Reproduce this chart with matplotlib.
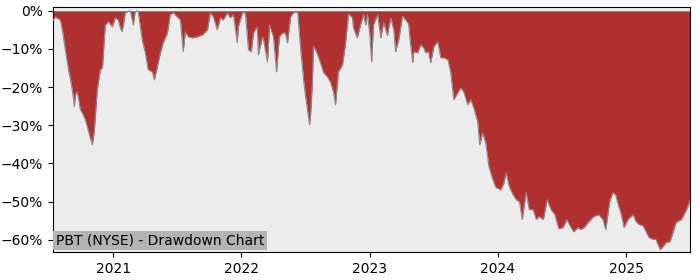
#!/usr/bin/env python3
"""Drawdown chart for PBT (NYSE), mid-2020 to mid-2025."""

import matplotlib
matplotlib.use("Agg")
import matplotlib.pyplot as plt
import matplotlib.dates as mdates
import pandas as pd
from matplotlib.ticker import PercentFormatter

# ---------------------------------------------------------------------------
# Data
# ---------------------------------------------------------------------------

TITLE = "PBT (NYSE) - Drawdown Chart"

dates = [
    "2020-07-13", "2020-07-19", "2020-07-28", "2020-08-03", "2020-08-11",
    "2020-08-17", "2020-08-26", "2020-09-01", "2020-09-06", "2020-09-12",
    "2020-09-15", "2020-09-20", "2020-09-29", "2020-10-07", "2020-10-13",
    "2020-10-21", "2020-10-27", "2020-11-02", "2020-11-08", "2020-11-16",
    "2020-11-25", "2020-12-01", "2020-12-06", "2020-12-09", "2020-12-18",
    "2020-12-23", "2020-12-29", "2021-01-06", "2021-01-15", "2021-01-21",
    "2021-01-26", "2021-02-04", "2021-02-09", "2021-02-18", "2021-02-27",
    "2021-03-04", "2021-03-10", "2021-03-13", "2021-03-24", "2021-04-02",
    "2021-04-10", "2021-04-22", "2021-04-28", "2021-05-06", "2021-05-15",
    "2021-05-23", "2021-06-04", "2021-06-12", "2021-06-21", "2021-07-02",
    "2021-07-11", "2021-07-19", "2021-07-25", "2021-08-03", "2021-08-14",
    "2021-08-28", "2021-09-12", "2021-09-26", "2021-10-04", "2021-10-13",
    "2021-10-24", "2021-11-02", "2021-11-10", "2021-11-22", "2021-11-30",
    "2021-12-09", "2021-12-20", "2021-12-23", "2022-01-04", "2022-01-12",
    "2022-01-21", "2022-01-29", "2022-02-04", "2022-02-15", "2022-02-18",
    "2022-03-02", "2022-03-05", "2022-03-16", "2022-03-22", "2022-04-02",
    "2022-04-11", "2022-04-19", "2022-04-28", "2022-05-06", "2022-05-12",
    "2022-05-21", "2022-05-29", "2022-06-10", "2022-06-18", "2022-06-27",
    "2022-07-02", "2022-07-08", "2022-07-14", "2022-07-17", "2022-07-22",
    "2022-07-25", "2022-07-31", "2022-08-06", "2022-08-14", "2022-08-23",
    "2022-09-03", "2022-09-12", "2022-09-20", "2022-09-26", "2022-10-04",
    "2022-10-16", "2022-10-24", "2022-11-02", "2022-11-13", "2022-11-16",
    "2022-11-27", "2022-12-06", "2022-12-15", "2022-12-21", "2022-12-26",
    "2023-01-01", "2023-01-07", "2023-01-12", "2023-01-24", "2023-02-02",
    "2023-02-10", "2023-02-21", "2023-03-02", "2023-03-11", "2023-03-16",
    "2023-03-25", "2023-04-05", "2023-04-14", "2023-04-22", "2023-04-28",
    "2023-05-04", "2023-05-07", "2023-05-18", "2023-05-27", "2023-06-04",
    "2023-06-10", "2023-06-18", "2023-06-24", "2023-07-03", "2023-07-14",
    "2023-07-23", "2023-07-31", "2023-08-12", "2023-08-20", "2023-08-29",
    "2023-09-09", "2023-09-18", "2023-09-26", "2023-10-08", "2023-10-16",
    "2023-10-25", "2023-11-05", "2023-11-11", "2023-11-19", "2023-11-28",
    "2023-12-07", "2023-12-18", "2023-12-27", "2024-01-10", "2024-01-19",
    "2024-01-25", "2024-02-03", "2024-02-14", "2024-02-23", "2024-03-03",
    "2024-03-11", "2024-03-22", "2024-03-31", "2024-04-11", "2024-04-20",
    "2024-04-28", "2024-05-10", "2024-05-21", "2024-06-01", "2024-06-12",
    "2024-06-23", "2024-07-05", "2024-07-16", "2024-07-28", "2024-08-05",
    "2024-08-17", "2024-08-25", "2024-09-03", "2024-09-17", "2024-10-01",
    "2024-10-15", "2024-10-27", "2024-11-04", "2024-11-15", "2024-11-24",
    "2024-12-02", "2024-12-11", "2024-12-17", "2024-12-26", "2025-01-06",
    "2025-01-21", "2025-01-29", "2025-02-07", "2025-02-18", "2025-02-27",
    "2025-03-07", "2025-03-19", "2025-03-27", "2025-04-02", "2025-04-08",
    "2025-04-16", "2025-04-25", "2025-05-06", "2025-05-15", "2025-05-23",
    "2025-06-07", "2025-06-15", "2025-06-26", "2025-07-02",
]

drawdown_pct = [
    -2.6, -1.6, -2.1, -2.4, -6.3,
    -10.2, -15.4, -18.1, -20.7, -25.1,
    -22.0, -21.2, -25.9, -27.2, -28.5,
    -31.2, -33.2, -35.1, -31.2, -20.7,
    -15.4, -14.9, -7.6, -3.7, -2.9,
    -3.4, -4.2, -1.8, -2.4, -4.5,
    -5.5, -0.5, -0.3, 0.0, -3.7,
    -0.3, 0.0, -0.3, -7.6, -11.0,
    -15.4, -16.0, -18.1, -14.7, -11.0,
    -8.4, -5.8, -1.0, -0.5, -1.6,
    -2.4, -10.7, -5.5, -6.8, -7.1,
    -6.8, -6.3, -5.0, -0.5, -1.6,
    -5.0, -1.8, -2.4, -0.5, -1.8,
    -1.0, -8.4, -4.2, -0.5, -0.5,
    -10.2, -10.7, -5.8, -4.2, -11.5,
    -6.8, -7.6, -13.4, -3.7, -6.8,
    -16.0, -6.8, -5.8, -5.8, -8.4,
    -1.6, -0.5, -0.3, -9.4, -18.1,
    -22.0, -25.9, -29.8, -27.2, -18.8,
    -9.4, -10.2, -11.5, -13.6, -16.2,
    -17.3, -18.8, -21.2, -24.6, -16.0,
    -14.1, -8.9, -0.8, -1.8, -4.5,
    -7.1, -3.7, -1.0, -3.7, -1.0,
    -5.5, -13.4, -3.7, -1.0, -7.1,
    -3.1, -6.5, -1.8, -5.0, -10.7,
    -7.6, -1.3, -2.4, -3.4, -8.9,
    -13.6, -10.7, -11.0, -8.9, -9.7,
    -11.0, -10.7, -13.6, -9.4, -8.1,
    -12.3, -12.3, -12.8, -16.0, -23.3,
    -21.5, -20.2, -21.2, -24.6, -23.3,
    -25.4, -29.1, -35.1, -31.9, -34.6,
    -40.8, -44.2, -46.3, -46.9, -45.0,
    -42.4, -46.1, -48.2, -49.5, -50.0,
    -54.7, -47.6, -52.1, -52.1, -54.7,
    -53.9, -54.7, -49.5, -52.1, -53.4,
    -57.1, -56.8, -54.7, -56.8, -57.9,
    -56.8, -57.3, -56.8, -55.2, -53.9,
    -53.4, -54.7, -57.3, -50.0, -47.6,
    -48.2, -51.3, -52.9, -56.8, -54.7,
    -53.4, -55.2, -56.0, -56.3, -57.9,
    -59.4, -59.9, -59.9, -61.3, -62.6,
    -61.8, -60.7, -60.5, -57.9, -55.5,
    -54.7, -53.4, -51.3, -49.5,
]

x = pd.to_datetime(dates)

# ---------------------------------------------------------------------------
# Plot
# ---------------------------------------------------------------------------

fig = plt.figure(figsize=(7, 2.8), dpi=100)
ax = fig.add_axes([0.0757, 0.10, 0.91, 0.875])
ax.set_facecolor("#ececec")

ax.fill_between(x, 0, drawdown_pct, color="#b03030", linewidth=0, zorder=2)
ax.plot(x, drawdown_pct, color="#8a8a8a", linewidth=0.8, zorder=3)

ax.set_xlim(x[0], x[-1])
ax.set_ylim(-63.2, 1.0)
ax.set_yticks(range(-60, 1, 10))
ax.yaxis.set_major_formatter(PercentFormatter(xmax=100, decimals=0))
ax.xaxis.set_major_locator(mdates.YearLocator())
ax.xaxis.set_major_formatter(mdates.DateFormatter("%Y"))
ax.tick_params(labelsize=10)

ax.text(0.005, 0.018, TITLE, transform=ax.transAxes, fontsize=10,
        ha="left", va="bottom", zorder=5,
        bbox=dict(facecolor="#b4b4b4", edgecolor="none", pad=2))

fig.savefig("out.png", dpi=100, facecolor="white")
